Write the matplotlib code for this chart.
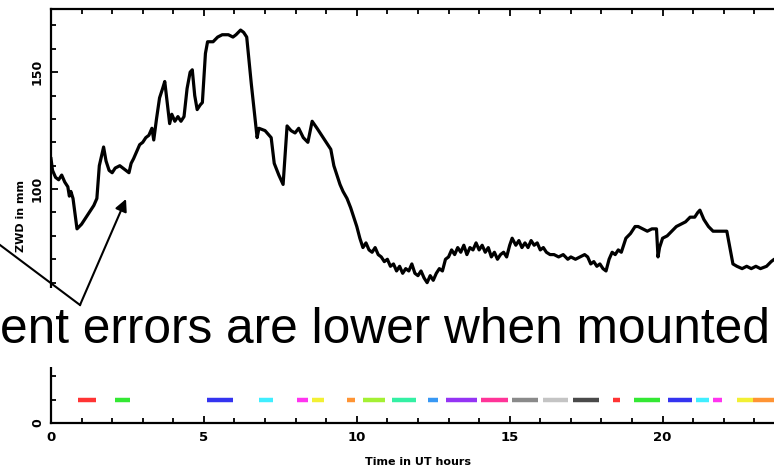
"""ZWD time series with per-session coloured bars and a slide overlay caption."""

import matplotlib
matplotlib.use("Agg")
import matplotlib.pyplot as plt
from matplotlib.lines import Line2D
from matplotlib.patches import Rectangle, FancyArrowPatch
from matplotlib.ticker import MultipleLocator

# ZWD trace (hours, mm)
time_h = [0.00, 0.05, 0.15, 0.25, 0.35, 0.45, 0.55, 0.60, 0.65, 0.72, 0.80, 0.85,
          1.00, 1.20, 1.40, 1.50, 1.58, 1.65, 1.72, 1.80, 1.90, 2.00, 2.10, 2.25,
          2.35, 2.45, 2.55, 2.62, 2.70, 2.80, 2.90, 3.00, 3.10, 3.20, 3.30, 3.36,
          3.45, 3.55, 3.65, 3.72, 3.80, 3.88, 3.95, 4.05, 4.15, 4.25, 4.35, 4.45,
          4.55, 4.62, 4.70, 4.78, 4.88, 4.95, 5.05, 5.12, 5.30, 5.45, 5.60, 5.80,
          5.95, 6.05, 6.20, 6.30, 6.40, 6.55, 6.70, 6.74, 6.80, 7.00, 7.20, 7.30,
          7.45, 7.59, 7.72, 7.85, 7.98, 8.10, 8.25, 8.40, 8.54, 8.70, 8.90, 9.05,
          9.15, 9.25, 9.35, 9.45, 9.55, 9.68, 9.80, 9.90, 10.00, 10.10, 10.20,
          10.30, 10.40, 10.50, 10.60, 10.70, 10.80, 10.90, 11.00, 11.10, 11.20,
          11.30, 11.40, 11.50, 11.60, 11.70, 11.80, 11.90, 12.00, 12.10, 12.20,
          12.30, 12.40, 12.50, 12.60, 12.70, 12.80, 12.90, 13.00, 13.10, 13.20,
          13.30, 13.40, 13.50, 13.60, 13.70, 13.80, 13.90, 14.00, 14.10, 14.20,
          14.30, 14.40, 14.50, 14.60, 14.70, 14.80, 14.90, 15.00, 15.08, 15.20,
          15.30, 15.40, 15.50, 15.60, 15.70, 15.80, 15.90, 16.00, 16.10, 16.20,
          16.32, 16.45, 16.60, 16.75, 16.90, 17.00, 17.15, 17.30, 17.45, 17.55,
          17.65, 17.75, 17.85, 17.95, 18.05, 18.15, 18.25, 18.35, 18.45, 18.55,
          18.65, 18.80, 18.95, 19.10, 19.20, 19.35, 19.50, 19.65, 19.80, 19.85,
          19.90, 20.00, 20.15, 20.30, 20.45, 20.60, 20.75, 20.90, 21.05, 21.15,
          21.22, 21.35, 21.50, 21.65, 21.80, 21.95, 22.10, 22.20, 22.30, 22.43,
          22.60, 22.75, 22.90, 23.05, 23.20, 23.40, 23.55, 23.65, 23.80, 24.00]
zwd_mm = [113, 108, 105, 104, 106, 103, 101, 97, 99, 96, 88, 83,
          85, 89, 93, 96, 110, 114, 118, 112, 108, 107, 109, 110,
          109, 108, 107, 111, 113, 116, 119, 120, 122, 123, 126, 121,
          130, 139, 143, 146, 137, 128, 132, 129, 131, 129, 131, 143,
          150, 151, 140, 134, 136, 137, 158, 163, 163, 165, 166, 166,
          165, 166, 168, 167, 165, 145, 127, 122, 126, 125, 122, 111,
          106, 102, 127, 125, 124, 126, 122, 120, 129, 126, 122, 119,
          117, 110, 106, 102, 99, 96, 92, 88, 84, 79, 75,
          77, 74, 73, 75, 72, 71, 69, 70, 67, 68,
          65, 67, 64, 66, 65, 68, 64, 63, 65, 62,
          60, 63, 61, 64, 66, 65, 70, 71, 74, 72,
          75, 73, 76, 72, 75, 74, 77, 74, 76, 73,
          75, 71, 73, 70, 72, 73, 71, 76, 79, 76,
          78, 75, 77, 75, 78, 76, 77, 74, 75, 73,
          72, 72, 71, 72, 70, 71, 70, 71, 72, 71,
          68, 69, 67, 68, 66, 65, 70, 73, 72, 74,
          73, 79, 81, 84, 84, 83, 82, 83, 83, 71,
          75, 79, 80, 82, 84, 85, 86, 88, 88, 90,
          91, 87, 84, 82, 82, 82, 82, 75, 68, 67,
          66, 67, 66, 67, 66, 67, 69, 70, 69, 70]

# observing sessions shown as coloured bars at ZWD = 10 mm
seg_start = [0.89, 2.09, 5.09, 6.80, 8.03, 8.52, 9.67, 10.21, 11.14, 12.32,
             12.92, 14.06, 15.09, 16.08, 17.08, 18.37, 19.07, 20.19, 21.08,
             21.64, 22.44, 22.97]
seg_end = [1.47, 2.58, 5.94, 7.26, 8.41, 8.93, 9.94, 10.92, 11.94, 12.66,
           13.92, 14.93, 15.94, 16.92, 17.93, 18.61, 19.91, 20.95, 21.52,
           21.93, 22.97, 24.00]
seg_colors = ["#ff3434", "#34e834", "#3434f0", "#40eeff", "#ff34f0", "#f2f034",
              "#ff9434", "#a4f034", "#34f0a4", "#3898f4", "#9434f4", "#ff3498",
              "#8a8a8a", "#c4c4c4", "#4a4a4a", "#ff3434", "#34e834", "#3434f0",
              "#40eeff", "#ff34f0", "#f2f034", "#ff9434"]
seg_level = 10

yticks = [0, 50, 100, 150]
ytick_labels = ["0", "", "100", "150"]  # the 50 label sits under the slide caption band

caption = "ent errors are lower when mounted"

W, H = 774, 469
fig = plt.figure(figsize=(W / 100, H / 100), dpi=100)
# axes run past the right edge of the cropped slide
ax = fig.add_axes([51 / W, 46 / H, 24 * 30.58 / W, 414 / H])

ax.plot(time_h, zwd_mm, color="black", lw=2.3, solid_joinstyle="round")
for x0, x1, c in zip(seg_start, seg_end, seg_colors):
    ax.plot([x0, x1], [seg_level, seg_level], color=c, lw=3.2, solid_capstyle="butt")

ax.set_xlim(0, 24)
ax.set_ylim(0, 177)
ax.xaxis.set_major_locator(MultipleLocator(5))
ax.xaxis.set_minor_locator(MultipleLocator(1))
ax.set_yticks(yticks)
ax.set_yticklabels(ytick_labels)
ax.yaxis.set_minor_locator(MultipleLocator(10))
ax.tick_params(which="both", direction="in", top=True, right=True, width=1.3)
ax.tick_params(which="major", length=5)
ax.tick_params(which="minor", length=3.5)
ax.tick_params(axis="x", pad=6, labelsize=9.5)
ax.tick_params(axis="y", pad=5, labelsize=9, labelrotation=90)
for lab in ax.get_xticklabels() + ax.get_yticklabels():
    lab.set_fontweight("bold")
for lab in ax.get_yticklabels():
    lab.set_va("center")
for s in ax.spines.values():
    s.set_linewidth(1.6)
ax.set_xlabel("Time in UT hours", fontsize=8, fontweight="bold", labelpad=9)
ax.set_ylabel("ZWD in mm", fontsize=8, fontweight="bold", labelpad=4)

# slide overlay: white band, caption and call-out arrows
fig.add_artist(Rectangle((0, 1 - 367 / H), 1, 79 / H, transform=fig.transFigure,
                         facecolor="white", edgecolor="none", zorder=5))
fig.text(0, 1 - 343 / H, caption, fontsize=35.7, family="Liberation Sans",
         ha="left", va="baseline", zorder=7)
fig.add_artist(Line2D([0 / W, 80 / W], [1 - 245 / H, 1 - 305 / H],
                      transform=fig.transFigure, color="black", lw=1.5, zorder=6))
fig.add_artist(FancyArrowPatch((80 / W, 1 - 305 / H), (126 / W, 1 - 199 / H),
                               transform=fig.transFigure, arrowstyle="-|>",
                               mutation_scale=18, color="black", lw=1.5,
                               shrinkA=0, shrinkB=0, zorder=6))

fig.savefig("out.png", dpi=100)
